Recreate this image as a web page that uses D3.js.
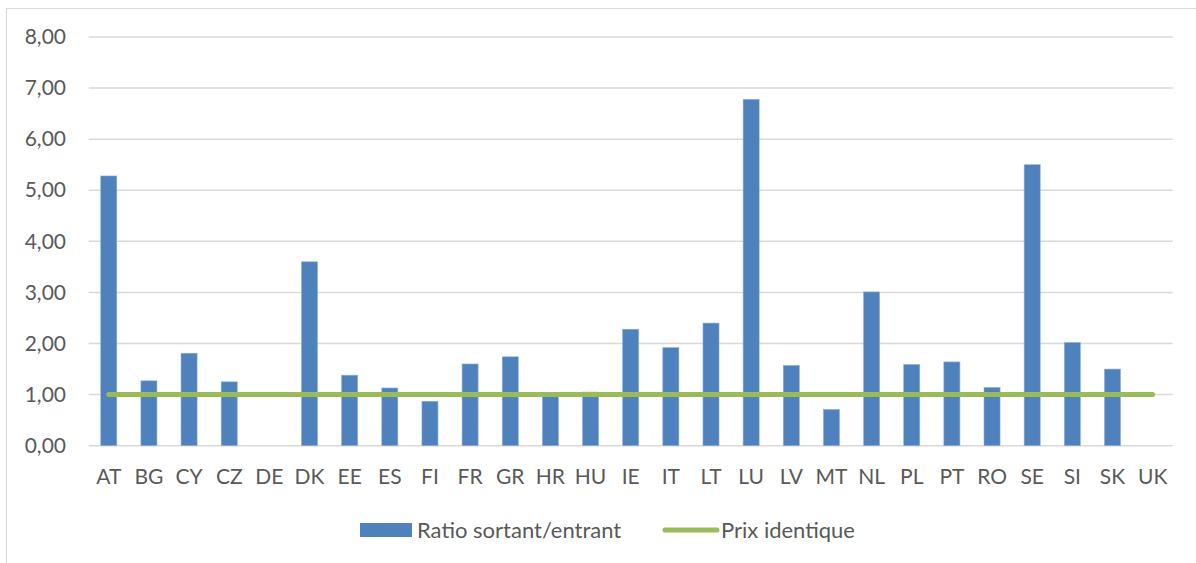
<!DOCTYPE html>
<html><head><meta charset="utf-8">
<script src="https://cdn.jsdelivr.net/npm/d3@7"></script>
<style>body{margin:0;background:#fff;} svg{display:block;}</style>
</head><body>
<script>
const categories = ["AT","BG","CY","CZ","DE","DK","EE","ES","FI","FR","GR","HR","HU","IE","IT","LT","LU","LV","MT","NL","PL","PT","RO","SE","SI","SK","UK"];
const ratioValues = [5.28,1.27,1.81,1.25,null,3.60,1.38,1.13,0.87,1.60,1.74,0.98,1.05,2.28,1.92,2.40,6.78,1.57,0.71,3.01,1.59,1.64,1.14,5.50,2.02,1.50,null];
const referenceValues = categories.map(() => 1);
const yTicks = [0,1,2,3,4,5,6,7,8];
const seriesNames = ["Ratio sortant/entrant","Prix identique"];

const W = 1196, H = 563;
const font = "Lato, 'Open Sans', sans-serif";
const svg = d3.select("body").append("svg").attr("width", W).attr("height", H);
svg.append("rect").attr("x",6.5).attr("y",8.5).attr("width",1300).attr("height",700)
  .attr("fill","#fff").attr("stroke","#d9d9d9").attr("stroke-width",1);

const pLeft = 88.7, pRight = 1172.7, pTop = 37, pBottom = 445.7;
const x = d3.scaleBand().domain(categories).range([pLeft, pRight]).paddingInner(0.6).paddingOuter(0.3);
const y = d3.scaleLinear().domain([0, 8]).range([pBottom, pTop]);

// gridlines
svg.append("g").selectAll("line").data(yTicks).join("line")
  .attr("x1", pLeft).attr("x2", pRight)
  .attr("y1", d => y(d)).attr("y2", d => y(d))
  .attr("stroke", "#d9d9d9").attr("stroke-width", 1.5);

// y axis labels
const fmt = d => d3.format(".2f")(d).replace(".", ",");
const yAxis = d3.axisLeft(y).tickValues(yTicks).tickFormat(fmt).tickSize(0).tickPadding(0);
const yg = svg.append("g").attr("transform", `translate(66,0)`).call(yAxis);
yg.select(".domain").remove();
yg.selectAll("text").attr("font-family", font).attr("font-size", 21).attr("fill", "#595959");

// x axis labels
const xAxis = d3.axisBottom(x).tickSize(0).tickPadding(0);
const xg = svg.append("g").attr("transform", `translate(0,${pBottom + 23})`).call(xAxis);
xg.select(".domain").remove();
xg.selectAll("text").attr("font-family", font).attr("font-size", 21).attr("fill", "#595959");

// bars
svg.append("g").selectAll("rect").data(categories.map((c,i)=>({c, v: ratioValues[i]})).filter(d => d.v != null))
  .join("rect")
  .attr("x", d => x(d.c)).attr("width", x.bandwidth())
  .attr("y", d => y(d.v)).attr("height", d => y(0) - y(d.v))
  .attr("fill", "#4f81bd").attr("stroke", "#8eb0dc").attr("stroke-width", 0.6);

// reference line
const line = d3.line().x((d,i) => x(categories[i]) + x.bandwidth()/2).y(d => y(d));
svg.append("path").datum(referenceValues).attr("d", line)
  .attr("fill", "none").attr("stroke", "#9bbb59").attr("stroke-width", 5).attr("stroke-linecap", "round");

// legend
const lg = svg.append("g");
lg.append("rect").attr("x", 360).attr("y", 523).attr("width", 52).attr("height", 14).attr("fill", "#4f81bd");
lg.append("text").attr("x", 417).attr("y", 530).attr("dy", "0.35em").text(seriesNames[0])
  .attr("font-family", font).attr("font-size", 22).attr("fill", "#595959");
lg.append("line").attr("x1", 665).attr("x2", 717).attr("y1", 530).attr("y2", 530)
  .attr("stroke", "#9bbb59").attr("stroke-width", 5).attr("stroke-linecap", "round");
lg.append("text").attr("x", 721).attr("y", 530).attr("dy", "0.35em").text(seriesNames[1])
  .attr("font-family", font).attr("font-size", 22).attr("fill", "#595959");
</script>
</body></html>
